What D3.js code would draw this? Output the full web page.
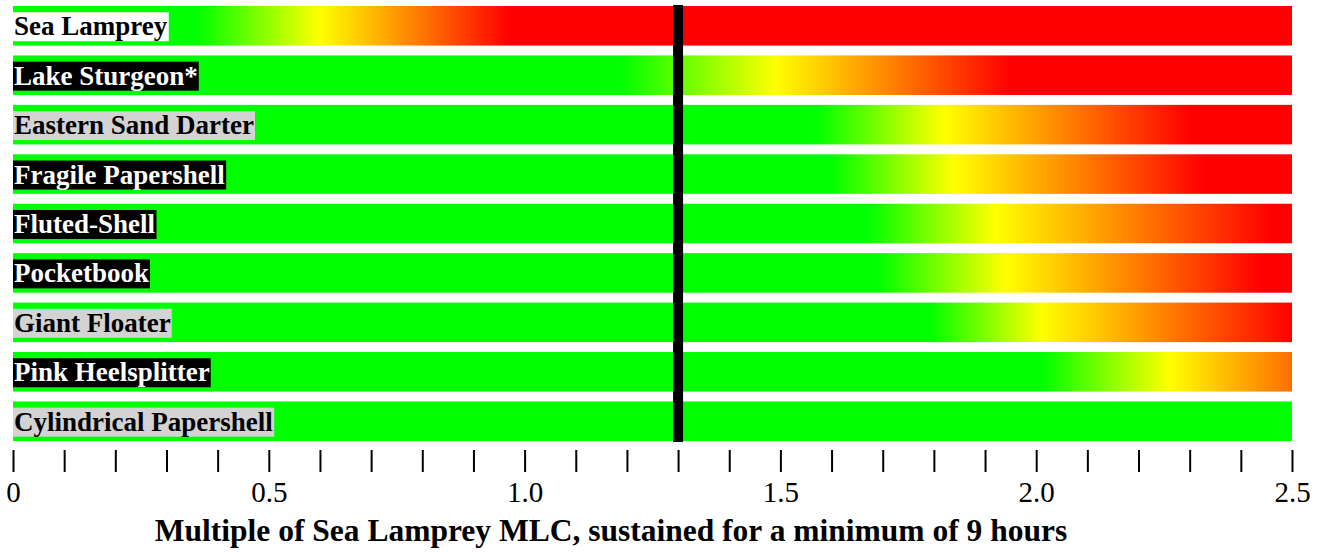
<!DOCTYPE html>
<html>
<head>
<meta charset="utf-8">
<script src="https://cdn.jsdelivr.net/npm/d3@7"></script>
<style>
  body { margin: 0; background: #fff; }
  text { font-family: "Liberation Serif", "Times New Roman", serif; }
</style>
</head>
<body>
<div id="chart"></div>
<script>
// Species shown, top to bottom
var species = ["Sea Lamprey", "Lake Sturgeon*", "Eastern Sand Darter", "Fragile Papershell",
  "Fluted-Shell", "Pocketbook", "Giant Floater", "Pink Heelsplitter", "Cylindrical Papershell"];

// Where the colour ramp leaves green, turns yellow and becomes red (multiple of MLC)
var greenEnd = [0.36, 1.19, 1.57, 1.60, 1.67, 1.69, 1.79, 2.01, null];
var yellowAt = [0.60, 1.49, 1.82, 1.84, 1.92, 1.94, 2.01, 2.26, null];
var redFrom  = [0.97, 1.95, 2.30, 2.33, 2.46, 2.44, 2.50, 2.68, null];

// Label box style per species
var labelBox = ["white", "black", "lightgray", "black", "black", "black", "lightgray", "black", "lightgray"];

// Axis
var xMax = 2.5;
var majorTicks = [0, 0.5, 1.0, 1.5, 2.0, 2.5];
var tickLabels = ["0", "0.5", "1.0", "1.5", "2.0", "2.5"];
var referenceLine = 1.3;
var axisTitle = "Multiple of Sea Lamprey MLC, sustained for a minimum of 9 hours";

var w = 1325, h = 552;

var svg = d3.select("#chart").append("svg")
  .attr("width", w)
  .attr("height", h);

// Create scale function
var xScale = d3.scaleLinear().domain([0, xMax]).range([13, 1292]);
var yScale = d3.scaleBand().domain(species).range([6, 441]).paddingInner(0.2).paddingOuter(0);

var defs = svg.append("defs");

// One gradient per species that has a ramp
species.forEach(function(s, i) {
  if (greenEnd[i] === null) return;
  var g = defs.append("linearGradient")
    .attr("id", "grad" + i)
    .attr("gradientUnits", "userSpaceOnUse")
    .attr("x1", xScale(greenEnd[i]))
    .attr("x2", xScale(redFrom[i]))
    .attr("y1", 0).attr("y2", 0);
  g.append("stop").attr("offset", 0).attr("stop-color", "#00ff00");
  g.append("stop").attr("offset", (yellowAt[i] - greenEnd[i]) / (redFrom[i] - greenEnd[i])).attr("stop-color", "#ffff00");
  g.append("stop").attr("offset", 1).attr("stop-color", "#ff0000");
});

// Create bars
svg.selectAll("rect.bar").data(species).enter().append("rect")
  .attr("class", "bar")
  .attr("x", xScale(0))
  .attr("y", function(d) { return yScale(d); })
  .attr("width", xScale(xMax) - xScale(0))
  .attr("height", yScale.bandwidth())
  .attr("fill", function(d, i) { return greenEnd[i] === null ? "#00ff00" : "url(#grad" + i + ")"; });

// Species labels with background boxes
var labels = svg.selectAll("g.label").data(species).enter().append("g").attr("class", "label");
labels.append("rect");
labels.append("text")
  .attr("x", xScale(0) + 1)
  .attr("y", function(d) { return yScale(d) + yScale.bandwidth() / 2; })
  .attr("dy", "0.35em")
  .attr("font-size", "27px")
  .attr("font-weight", "bold")
  .attr("fill", function(d, i) { return labelBox[i] === "black" ? "white" : "black"; })
  .text(function(d) { return d; });
labels.each(function(d, i) {
  var bb = d3.select(this).select("text").node().getBBox();
  d3.select(this).select("rect")
    .attr("x", bb.x - 1)
    .attr("y", bb.y + 1)
    .attr("width", bb.width + 2)
    .attr("height", bb.height - 1)
    .attr("fill", labelBox[i]);
});

// Reference line at 1.3
svg.append("line")
  .attr("x1", xScale(referenceLine)).attr("x2", xScale(referenceLine))
  .attr("y1", 5).attr("y2", 442)
  .attr("stroke", "black")
  .attr("stroke-width", 10);

// Define X axis: a tick every 0.1, labels on the halves
var minorTicks = d3.range(0, 26).map(function(k) { return k / 10; });
var xAxis = d3.axisBottom(xScale)
  .tickValues(minorTicks)
  .tickSize(22)
  .tickPadding(9)
  .tickFormat(function(v) {
    var j = majorTicks.findIndex(function(m) { return Math.abs(m - v) < 1e-6; });
    return j < 0 ? "" : tickLabels[j];
  });

var axisG = svg.append("g")
  .attr("transform", "translate(0,450)")
  .call(xAxis);
axisG.select(".domain").remove();
axisG.selectAll(".tick line").attr("stroke", "black").attr("stroke-width", 2);
axisG.selectAll(".tick text")
  .attr("font-family", "Liberation Serif, serif")
  .attr("font-size", "29px")
  .attr("fill", "black");

// Axis title
svg.append("text")
  .attr("x", 611)
  .attr("y", 541)
  .attr("text-anchor", "middle")
  .attr("font-size", "31.5px")
  .attr("font-weight", "bold")
  .text(axisTitle);
</script>
</body>
</html>
